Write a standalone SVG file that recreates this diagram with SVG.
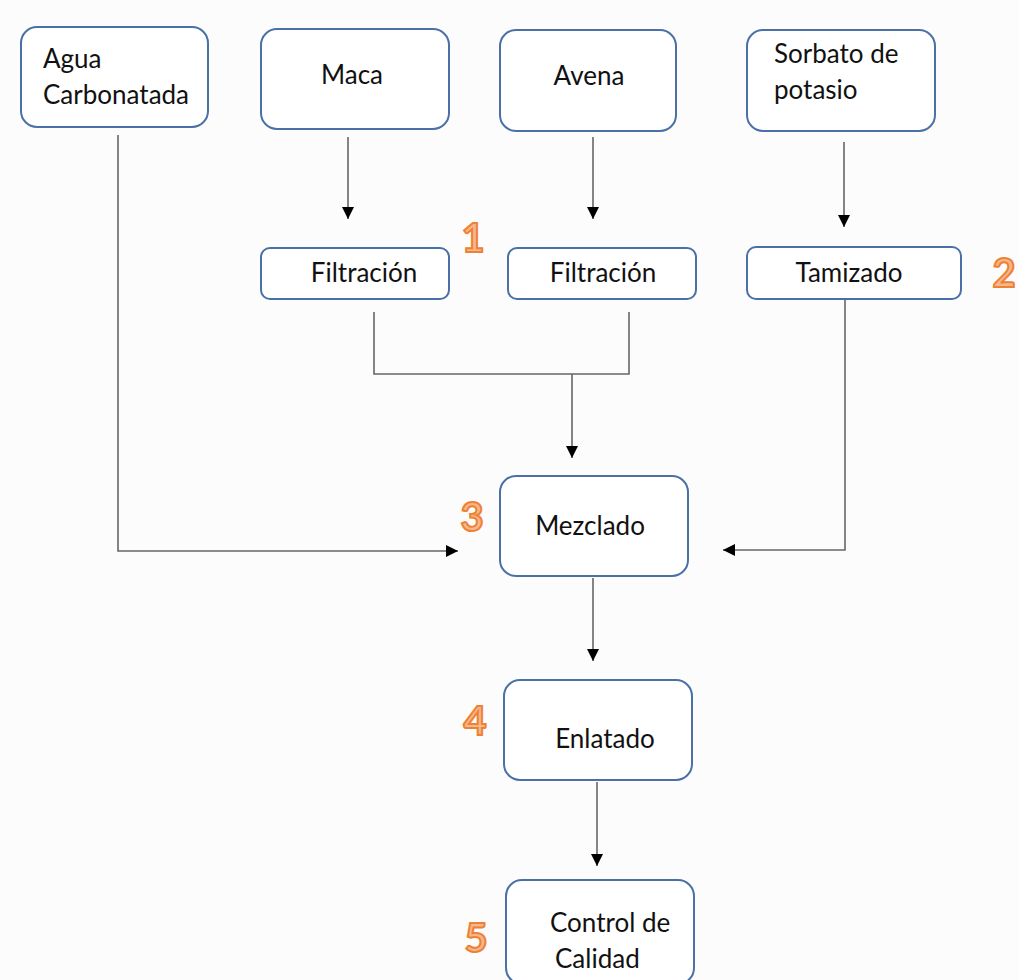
<svg xmlns="http://www.w3.org/2000/svg" width="1019" height="980" viewBox="0 0 1019 980">
<style>
.box{fill:#ffffff;stroke:#4a70a8;stroke-width:2}
.t{font-family:Lato,"Open Sans","Liberation Sans",sans-serif;font-size:26px;fill:#111}
.c{fill:none;stroke:#666;stroke-width:1.6}
.n{font-family:Lato,"Liberation Sans",sans-serif;font-weight:bold;font-size:40px;fill:#f7b78c;stroke:#ee8234;stroke-width:2}
</style>
<defs>
<marker id="ah" markerWidth="12" markerHeight="12" refX="12" refY="6" orient="auto" markerUnits="userSpaceOnUse">
<path d="M0,0 L12,6 L0,12 Z" fill="#000"/>
</marker>
</defs>
<rect width="1019" height="980" fill="#fcfcfc"/>
<g id="connectors">
<path class="c" d="M118,135 V551 H458" marker-end="url(#ah)"/>
<path class="c" d="M348,137 V219" marker-end="url(#ah)"/>
<path class="c" d="M593,137 V219" marker-end="url(#ah)"/>
<path class="c" d="M844,142 V227" marker-end="url(#ah)"/>
<path class="c" d="M374,312 V374 H629 V312"/>
<path class="c" d="M572,374 V458" marker-end="url(#ah)"/>
<path class="c" d="M845,300 V550 H723" marker-end="url(#ah)"/>
<path class="c" d="M593,578 V661" marker-end="url(#ah)"/>
<path class="c" d="M597,782 V866" marker-end="url(#ah)"/>
</g>
<g id="agua"><rect class="box" x="21" y="27" width="187" height="100" rx="16"/><text class="t" x="43" y="68">Agua</text><text class="t" x="43" y="104">Carbonatada</text></g>
<g id="maca"><rect class="box" x="261" y="29" width="188" height="100" rx="16"/><text class="t" x="352" y="84" text-anchor="middle">Maca</text></g>
<g id="avena"><rect class="box" x="500" y="30" width="176" height="101" rx="16"/><text class="t" x="589" y="85" text-anchor="middle">Avena</text></g>
<g id="sorbato"><rect class="box" x="747" y="30" width="188" height="101" rx="16"/><text class="t" x="774" y="63">Sorbato de</text><text class="t" x="774" y="99">potasio</text></g>
<g id="filtracion1"><rect class="box" x="261" y="248" width="188" height="51" rx="9"/><text class="t" x="364" y="282" text-anchor="middle">Filtración</text></g>
<g id="filtracion2"><rect class="box" x="508" y="248" width="188" height="51" rx="9"/><text class="t" x="603" y="282" text-anchor="middle">Filtración</text></g>
<g id="tamizado"><rect class="box" x="747" y="247" width="214" height="52" rx="9"/><text class="t" x="849" y="282" text-anchor="middle">Tamizado</text></g>
<g id="mezclado"><rect class="box" x="500" y="476" width="188" height="100" rx="16"/><text class="t" x="590" y="535" text-anchor="middle">Mezclado</text></g>
<g id="enlatado"><rect class="box" x="504" y="680" width="188" height="100" rx="16"/><text class="t" x="605" y="748" text-anchor="middle">Enlatado</text></g>
<g id="control"><rect class="box" x="506" y="880" width="188" height="104" rx="16"/><text class="t" x="550" y="932">Control de</text><text class="t" x="555" y="968">Calidad</text></g>
<g id="numbers">
<text class="n" x="473" y="252" text-anchor="middle">1</text>
<text class="n" x="1004" y="287" text-anchor="middle">2</text>
<text class="n" x="472" y="531" text-anchor="middle">3</text>
<text class="n" x="475" y="735" text-anchor="middle">4</text>
<text class="n" x="476" y="952" text-anchor="middle">5</text>
</g>
</svg>
